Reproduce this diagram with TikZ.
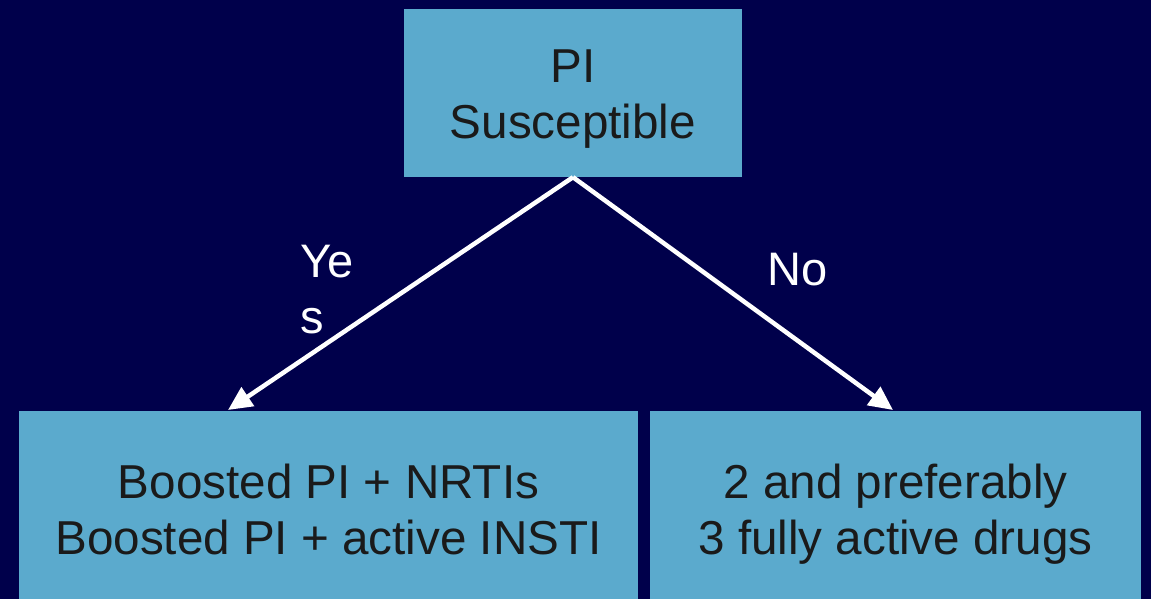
\documentclass[tikz,border=0pt]{standalone}
\usepackage{fontspec}
\setmainfont{Liberation Sans}
\usetikzlibrary{arrows.meta}
\definecolor{navy}{RGB}{0,0,75}
\definecolor{boxblue}{RGB}{91,170,205}
\definecolor{ink}{RGB}{26,26,26}
\begin{document}
\begin{tikzpicture}[x=1pt,y=-1pt,
  box/.style={fill=boxblue, draw=none, inner sep=0pt},
  boxtext/.style={text=ink, align=center, inner sep=0pt,
    font=\fontsize{47.6}{56}\selectfont},
  branch/.style={draw=white, line width=4.5pt, -{Triangle[length=24pt,width=22pt]}},
  lbl/.style={text=white, inner sep=0pt, font=\fontsize{47}{56}\selectfont}]
  % background and page frame
  \fill[navy] (0,0) rectangle (1151,599);
  \useasboundingbox (0,0) rectangle (1151,599);
  \clip (0,0) rectangle (1151,599);
  % decision and outcome boxes
  \node[box, minimum width=338pt, minimum height=168pt] (pi) at (573,93) {};
  \node[box, minimum width=619pt, minimum height=196pt] (yesbox) at (328.5,509) {};
  \node[box, minimum width=491pt, minimum height=196pt] (nobox) at (895.5,509) {};
  % box texts
  \node[boxtext] (pitext) at (573,99) {PI\\Susceptible};
  \node[boxtext] (yestext) at (328.5,509) {Boosted PI + NRTIs\\Boosted PI + active INSTI};
  \node[boxtext] (notext) at (895.5,514) {2 and preferably\\3 fully active drugs};
  % branch arrows
  \coordinate (yestip) at (228,410);
  \coordinate (notip) at (893,410);
  \draw[branch] (pi.south) -- (yestip);
  \draw[branch] (pi.south) -- (notip);
  % branch labels
  \node[lbl, align=left, anchor=west] (yes) at (300,290) {Ye\\s};
  \node[lbl] (no) at (798,270) {No};
\end{tikzpicture}
\end{document}
